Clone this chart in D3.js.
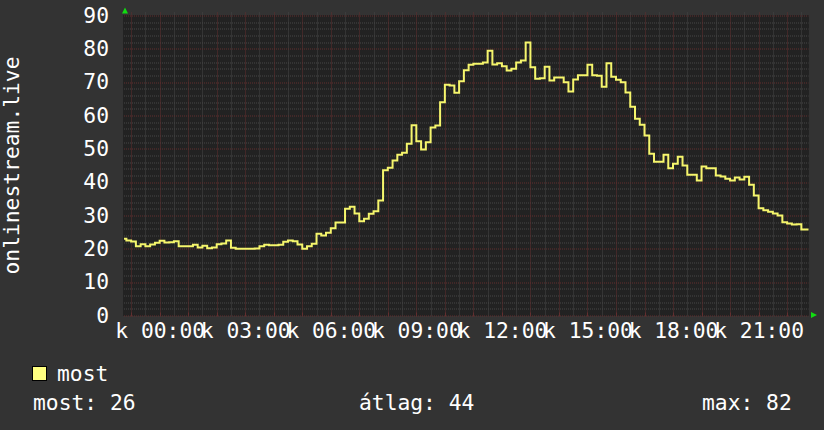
<!DOCTYPE html>
<html>
<head>
<meta charset="utf-8">
<script src="https://cdn.jsdelivr.net/npm/d3@7"></script>
<style>
  html, body { margin: 0; padding: 0; background: #333333; }
  svg { display: block; }
  text { font-family: 'DejaVu Sans Mono', monospace; fill: #ffffff; }
</style>
</head>
<body>
<div id="chart"></div>
<script>
// 24h window, one sample every 10 minutes, starting 22:45 the day before
const seriesName = 'most';
const yTitle = 'onlinestream.live';
const startTime = new Date(2024, 0, 1, 22, 45);
const endTime = new Date(2024, 0, 2, 22, 45);
const stepMinutes = 10;
const values = [
  23.0, 22.5, 22.2, 20.8, 21.4, 20.8, 21.3, 21.8, 22.4, 21.9,
  22.0, 22.3, 20.8, 20.8, 20.8, 21.2, 20.4, 20.9, 20.2, 20.4,
  21.4, 21.6, 22.5, 20.3, 20.0, 20.0, 20.0, 20.0, 20.1, 20.8,
  21.2, 21.1, 21.1, 21.2, 22.1, 22.5, 22.3, 21.3, 20.0, 20.8,
  21.5, 24.5, 24.0, 24.8, 26.2, 27.9, 27.9, 32.0, 32.6, 30.6,
  28.3, 29.0, 30.5, 31.3, 34.5, 43.6, 44.3, 46.5, 48.2, 48.8,
  51.5, 57.1, 52.3, 49.8, 52.0, 56.4, 57.0, 64.0, 69.2, 69.0,
  66.8, 70.3, 73.6, 75.2, 75.5, 75.5, 75.9, 79.4, 75.3, 75.7,
  74.8, 73.5, 74.0, 75.9, 76.5, 81.9, 74.5, 71.0, 71.2, 74.6,
  70.5, 71.4, 71.4, 70.0, 67.2, 70.8, 72.1, 72.1, 75.2, 72.1,
  71.9, 68.6, 75.7, 71.6, 70.7, 70.0, 66.9, 62.6, 59.0, 57.2,
  54.0, 48.5, 46.1, 46.1, 48.2, 44.2, 45.5, 47.6, 45.0, 42.2,
  42.2, 40.5, 44.7, 44.2, 44.2, 42.0, 41.7, 41.0, 40.5, 41.4,
  40.8, 41.6, 39.2, 36.0, 32.2, 31.6, 31.1, 30.6, 30.0, 28.0,
  27.6, 27.3, 27.4, 25.8
];
const yTicks = [0, 10, 20, 30, 40, 50, 60, 70, 80, 90];
const xTickHours = [0, 3, 6, 9, 12, 15, 18, 21];
const xTickLabels = ['k 00:00', 'k 03:00', 'k 06:00', 'k 09:00', 'k 12:00', 'k 15:00', 'k 18:00', 'k 21:00'];
const statLabels = ['most: 26', 'átlag: 44', 'max: 82'];

const width = 824;
const height = 430;
const margin = { top: 15.5, right: 15.5, bottom: 114.5, left: 124 };
const innerWidth = width - margin.left - margin.right;
const innerHeight = height - margin.top - margin.bottom;
const fontSize = 21.3;

const data = values.map((v, i) => ({
  t: d3.timeMinute.offset(startTime, i * stepMinutes),
  v,
}));
// let the last sample run to the right edge
data.push({ t: endTime, v: values[values.length - 1] });

const x = d3.scaleTime().domain([startTime, endTime]).range([0, innerWidth]);
const y = d3.scaleLinear().domain([0, 90]).range([innerHeight, 0]);

const svg = d3.select('#chart')
  .append('svg')
  .attr('width', width)
  .attr('height', height);

svg.append('rect')
  .attr('width', width)
  .attr('height', height)
  .attr('fill', '#333333');

const g = svg.append('g')
  .attr('transform', `translate(${margin.left},${margin.top})`);

// plot background
g.append('rect')
  .attr('x', -1)
  .attr('y', -0.5)
  .attr('width', innerWidth + 1.5)
  .attr('height', innerHeight + 1)
  .attr('fill', '#222222');

const crisp = (p) => Math.round(p) + 0.5;
const minorColor = '#474747';
const majorColor = '#622f2f';

// horizontal grid
const grid = g.append('g');
grid.selectAll('.hminor')
  .data(d3.range(0, 91, 2).filter((d) => d % 10 !== 0))
  .enter()
  .append('line')
  .attr('x1', 0)
  .attr('x2', innerWidth)
  .attr('y1', (d) => crisp(y(d)))
  .attr('y2', (d) => crisp(y(d)))
  .attr('stroke', minorColor)
  .attr('stroke-dasharray', '1,1');

// vertical grid, every 30 minutes / every hour
const minorTimes = d3.timeMinute.every(30).range(startTime, endTime)
  .filter((d) => d.getMinutes() !== 0);
const majorTimes = d3.timeHour.range(startTime, endTime);

grid.selectAll('.vminor')
  .data(minorTimes)
  .enter()
  .append('line')
  .attr('x1', (d) => crisp(x(d)))
  .attr('x2', (d) => crisp(x(d)))
  .attr('y1', -3)
  .attr('y2', innerHeight + 1)
  .attr('stroke', minorColor)
  .attr('stroke-dasharray', '1,1');

grid.selectAll('.hmajor')
  .data(yTicks)
  .enter()
  .append('line')
  .attr('x1', 0)
  .attr('x2', innerWidth)
  .attr('y1', (d) => crisp(y(d)))
  .attr('y2', (d) => crisp(y(d)))
  .attr('stroke', majorColor)
  .attr('stroke-dasharray', '1,1');

grid.selectAll('.vmajor')
  .data(majorTimes)
  .enter()
  .append('line')
  .attr('x1', (d) => crisp(x(d)))
  .attr('x2', (d) => crisp(x(d)))
  .attr('y1', -3)
  .attr('y2', innerHeight + 1)
  .attr('stroke', majorColor)
  .attr('stroke-dasharray', '1,1');

// small solid ticks along the bottom
grid.selectAll('.btick')
  .data(majorTimes)
  .enter()
  .append('line')
  .attr('x1', (d) => crisp(x(d)))
  .attr('x2', (d) => crisp(x(d)))
  .attr('y1', innerHeight - 3)
  .attr('y2', innerHeight + 1)
  .attr('stroke', majorColor);

// y axis
g.append('g')
  .call(d3.axisLeft(y).tickValues(yTicks).tickSize(0).tickPadding(15))
  .call((a) => a.select('.domain').remove())
  .selectAll('text')
  .style('font-size', `${fontSize}px`)
  .style('font-family', "'DejaVu Sans Mono', monospace")
  .attr('fill', '#ffffff');

// x axis
const xTickDates = xTickHours.map((h) => new Date(2024, 0, 2, h, 0));
g.append('g')
  .attr('transform', `translate(0,${innerHeight})`)
  .call(d3.axisBottom(x)
    .tickValues(xTickDates)
    .tickSize(0)
    .tickPadding(7)
    .tickFormat((d, i) => xTickLabels[i]))
  .call((a) => a.select('.domain').remove())
  .selectAll('text')
  .style('font-size', `${fontSize}px`)
  .style('font-family', "'DejaVu Sans Mono', monospace")
  .attr('fill', '#ffffff');

// series line, stepped like the rrd plot
const line = d3.line()
  .x((d) => x(d.t))
  .y((d) => y(d.v))
  .curve(d3.curveStep);

g.append('path')
  .datum(data)
  .attr('d', line)
  .attr('fill', 'none')
  .attr('stroke', '#f6f66c')
  .attr('stroke-width', 2)
  .attr('stroke-linejoin', 'miter');

// green axis arrows
svg.append('path')
  .attr('d', 'M122,13.5 L128,13.5 L125,7.5 Z')
  .attr('fill', '#11dd11');
svg.append('path')
  .attr('d', 'M811,312 L811,318 L817,315 Z')
  .attr('fill', '#11dd11');

// vertical title
svg.append('text')
  .attr('transform', `translate(18.5,${margin.top + innerHeight / 2}) rotate(-90)`)
  .attr('text-anchor', 'middle')
  .style('font-size', `${fontSize}px`)
  .text(yTitle);

// legend
svg.append('rect')
  .attr('x', 32.5)
  .attr('y', 366.5)
  .attr('width', 14)
  .attr('height', 14)
  .attr('fill', '#ffff80')
  .attr('stroke', '#000000');

svg.append('text')
  .attr('x', 57)
  .attr('y', 381)
  .style('font-size', `${fontSize}px`)
  .text(seriesName);

const statX = [33, 359, 702];
svg.selectAll('.stat')
  .data(statLabels)
  .enter()
  .append('text')
  .attr('x', (d, i) => statX[i])
  .attr('y', 409.5)
  .style('font-size', `${fontSize}px`)
  .text((d) => d);
</script>
</body>
</html>
